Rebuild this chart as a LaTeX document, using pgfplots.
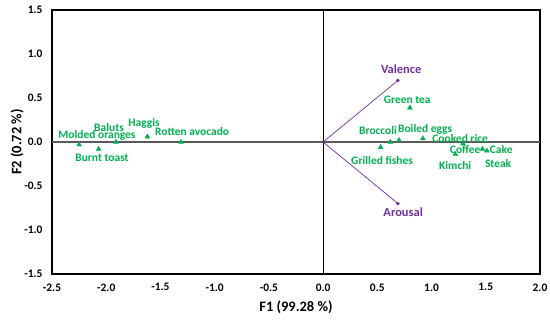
\documentclass[border=0pt]{standalone}
\usepackage{pgfplots}
\pgfplotsset{compat=1.18}
\usepackage{fontspec}
\setmainfont{Carlito}
\definecolor{pcagreen}{HTML}{00B050}
\definecolor{pcapurple}{HTML}{7030A0}
\begin{document}
\begin{tikzpicture}[x=1bp,y=1bp]
\begin{axis}[
  name=ax,
  scale only axis, width=488bp, height=264bp,
  xmin=-2.5, xmax=2.0, ymin=-1.5, ymax=1.5,
  xtick={-2.5,-2,...,2}, ytick={-1.5,-1,...,1.5},
  major tick length=0pt,
  axis line style={black, line width=1.2pt},
  /pgf/number format/assume math mode=true,
  xticklabel style={font=\fontsize{11.5}{13}\selectfont\bfseries, yshift=-6pt},
  yticklabel style={font=\fontsize{11.5}{13}\selectfont\bfseries, xshift=-6pt},
  xticklabel={\pgfmathprintnumber[fixed,precision=1,zerofill]{\tick}},
  yticklabel={\pgfmathprintnumber[fixed,precision=1,zerofill]{\tick}},
  xlabel={F1 (99.28 \%)}, ylabel={F2 (0.72 \%)},
  label style={font=\fontsize{14.5}{16}\selectfont\bfseries},
  xlabel style={yshift=-3pt},
  ylabel style={yshift=-6pt},
  clip=false,
]
\draw[black, line width=0.9pt] (axis cs:0,-1.5) -- (axis cs:0,1.5);
\draw[black!65, line width=1.1pt] (axis cs:-2.5,0) -- (axis cs:2.0,0);
\addplot[pcapurple, line width=0.7pt, mark=*, mark size=1.4pt, mark indices={2}] coordinates {(0,0) (0.69,0.70)};
\addplot[pcapurple, line width=0.7pt, mark=*, mark size=1.4pt, mark indices={2}] coordinates {(0,0) (0.69,-0.70)};
\addplot[only marks, mark=triangle*, mark size=2.8pt, color=pcagreen] coordinates {
(-2.25,-0.03) (-2.07,-0.08) (-1.91,0.00) (-1.62,0.06) (-1.31,0.00)
(0.80,0.39) (0.62,0.00) (0.70,0.02) (0.53,-0.06) (0.92,0.04)
(1.22,-0.14) (1.29,-0.02) (1.47,-0.08) (1.51,-0.10)
};
\begin{scope}[every node/.style={font=\fontsize{11.5}{13}\selectfont\bfseries, text=pcagreen, inner sep=0pt}]
\node at (axis cs:-2.085,0.08) {Molded oranges};
\node at (axis cs:-1.974,0.16) {Baluts};
\node at (axis cs:-1.651,0.216) {Haggis};
\node at (axis cs:-1.208,0.114) {Rotten avocado};
\node at (axis cs:-2.039,-0.182) {Burnt toast};
\node at (axis cs:0.775,0.48) {Green tea};
\node at (axis cs:0.507,0.125) {Broccoli};
\node at (axis cs:0.941,0.148) {Boiled eggs};
\node at (axis cs:1.264,0.045) {Cooked rice};
\node at (axis cs:1.31,-0.09) {Coffee};
\node at (axis cs:1.642,-0.08) {Cake};
\node at (axis cs:1.218,-0.27) {Kimchi};
\node at (axis cs:1.614,-0.24) {Steak};
\node at (axis cs:0.544,-0.216) {Grilled fishes};
\end{scope}
\begin{scope}[every node/.style={font=\fontsize{12.5}{14}\selectfont\bfseries, text=pcapurple, inner sep=0pt}]
\node at (axis cs:0.72,0.83) {Valence};
\node at (axis cs:0.738,-0.795) {Arousal};
\end{scope}
\end{axis}
\pgfresetboundingbox
\path[use as bounding box] ([shift={(-52bp,-48bp)}]ax.south west) rectangle ([shift={(10bp,10bp)}]ax.north east);
\end{tikzpicture}
\end{document}
